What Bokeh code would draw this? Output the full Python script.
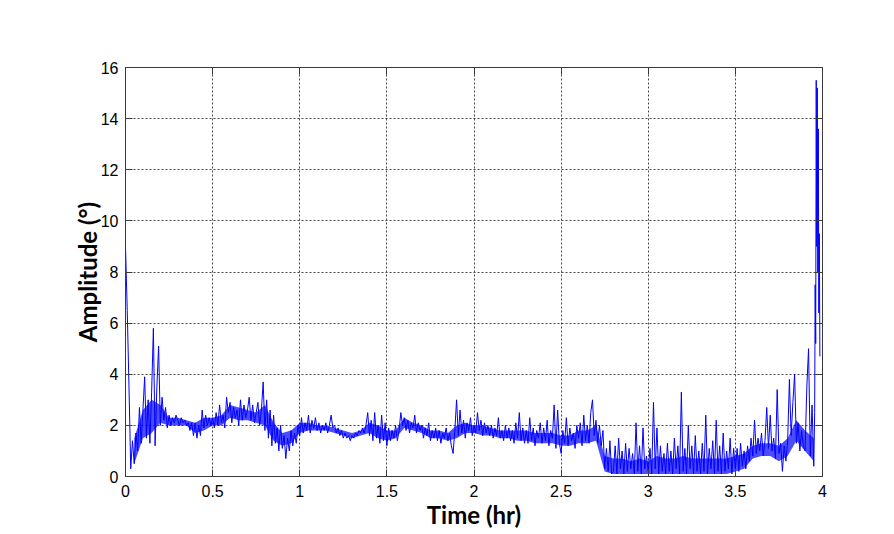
import numpy as np
from bokeh.plotting import figure
from bokeh.models import Range1d, LinearAxis, FixedTicker
from bokeh.embed import file_html
from bokeh.resources import INLINE

# ---------------- data ----------------
# amplitude samples every 0.01 hr
amp_0_1 = [9.0, 6.5, 3.5, 0.3, 1.4, 0.5, 1.7, 1.0, 2.7, 1.3,
           2.6, 3.9, 1.5, 3.0, 1.3, 3.3, 5.8, 1.2, 3.5, 5.1,
           2.0, 3.1, 2.2, 2.7, 1.9, 2.4, 2.0, 2.3, 2.1, 2.4,
           2.2, 2.0, 2.3, 2.1, 2.2, 2.0, 2.1, 1.8, 2.1, 1.6,
           2.1, 1.5, 2.0, 1.6, 2.6, 1.9, 2.4, 2.0, 2.3, 2.0,
           2.3, 1.9, 2.5, 2.0, 2.8, 2.1, 2.4, 1.9, 3.1, 2.5,
           2.9, 2.1, 2.7, 2.3, 2.6, 2.0, 3.0, 2.2, 2.8, 2.3,
           2.6, 3.1, 2.2, 2.8, 2.1, 2.5, 2.9, 2.0, 2.6, 3.7,
           1.8, 3.0, 1.5, 2.6, 1.2, 2.4, 1.3, 1.9, 1.0, 2.0,
           1.1, 1.6, 0.7, 1.5, 1.0, 1.8, 1.2, 1.7, 1.3, 2.0]
amp_1_2 = [1.6, 2.3, 1.7, 2.1, 1.8, 2.4, 1.7, 2.2, 1.9, 2.3,
           1.8, 2.1, 1.7, 2.0, 1.8, 2.1, 1.7, 2.0, 2.4, 1.9,
           2.0, 1.7, 1.9, 1.6, 1.8, 1.5, 1.7, 1.5, 1.6, 1.4,
           1.6, 1.5, 1.7, 1.6, 1.8, 1.7, 1.9, 1.7, 2.0, 2.5,
           1.6, 2.2, 1.4, 2.5, 1.5, 2.0, 1.3, 2.4, 1.4, 2.1,
           1.2, 1.9, 1.4, 1.8, 1.5, 2.0, 1.4, 1.8, 2.5, 2.0,
           2.3, 1.8, 2.2, 1.7, 2.1, 1.9, 2.4, 1.7, 2.1, 1.8,
           2.0, 1.5, 1.9, 1.6, 2.1, 1.4, 1.8, 1.5, 1.9, 1.4,
           1.8, 1.3, 1.7, 1.5, 1.9, 1.4, 1.7, 1.2, 0.9, 1.8,
           3.0, 1.6, 2.6, 1.7, 2.2, 1.5, 2.1, 1.8, 2.3, 1.6]
amp_2_3 = [2.0, 1.7, 2.5, 1.8, 2.2, 1.6, 2.1, 1.7, 2.0, 1.6,
           2.0, 1.5, 1.9, 1.6, 2.3, 1.5, 1.8, 1.4, 2.0, 1.5,
           1.9, 1.4, 1.8, 1.3, 2.1, 1.5, 2.5, 1.4, 1.9, 1.3,
           1.8, 1.3, 2.3, 1.4, 1.9, 1.2, 1.8, 1.5, 2.1, 1.3,
           1.9, 1.4, 2.2, 1.2, 1.8, 1.5, 2.8, 1.1, 2.6, 1.3,
           0.9, 1.8, 1.3, 2.3, 1.2, 1.9, 1.4, 1.7, 1.1, 2.0,
           1.5, 2.1, 1.2, 2.4, 1.4, 2.0, 1.3, 2.5, 3.0, 1.6,
           2.2, 1.3, 2.0, 1.2, 1.8, 0.3, 1.1, 0.2, 1.4, 0.1,
           0.2, 1.2, 0.1, 1.5, 0.3, 1.0, 0.1, 1.3, 0.2, 1.1,
           0.3, 0.9, 0.1, 2.1, 0.2, 1.2, 0.1, 1.9, 0.3, 0.8]
amp_3_4 = [0.2, 1.1, 0.1, 2.9, 0.3, 1.9, 0.1, 1.2, 0.2, 0.9,
           0.1, 1.3, 0.2, 1.0, 0.1, 1.5, 0.3, 1.2, 0.1, 3.3,
           0.2, 1.1, 0.1, 2.0, 0.3, 1.2, 0.1, 1.6, 0.2, 1.0,
           0.1, 1.3, 0.2, 2.4, 0.1, 1.1, 0.3, 1.4, 0.1, 2.2,
           0.2, 1.2, 0.1, 1.7, 0.2, 1.0, 0.3, 1.5, 0.1, 1.1,
           0.3, 1.1, 0.2, 1.3, 0.4, 1.0, 0.3, 1.2, 0.6, 1.5,
           0.8, 2.2, 0.9, 1.5, 1.0, 1.7, 0.8, 1.4, 2.7, 1.1,
           2.4, 1.0, 1.5, 0.7, 3.4, 0.9, 1.3, 0.2, 1.2, 0.6,
           1.4, 3.8, 1.6, 2.9, 4.0, 1.3, 2.1, 1.0, 1.8, 1.2,
           1.0, 3.5, 5.0, 0.8, 2.8, 0.4]
sample_step = 0.01
# final burst (hr, degrees)
tail_time = [3.955, 3.958, 3.961, 3.964, 3.967, 3.970, 3.973, 3.976, 3.979, 3.982, 3.985]
tail_amp = [2.5, 7.5, 5.2, 15.5, 9.0, 15.2, 8.0, 13.6, 6.4, 9.5, 4.7]

# dense core of the trace (low / high edge), every 0.05 hr from 0.05 hr
band_step = 0.05
band_low = [0.5, 1.5, 1.7, 2.1, 2.0, 2.0, 2.0, 1.7, 1.8, 2.0,
            2.0, 2.3, 2.2, 2.2, 2.1, 2.0, 1.4, 1.2, 1.3, 1.7,
            1.8, 1.8, 1.8, 1.7, 1.6, 1.5, 1.6, 1.7, 1.5, 1.4,
            1.5, 1.9, 1.8, 1.7, 1.5, 1.5, 1.4, 1.5, 1.7, 1.7,
            1.6, 1.6, 1.5, 1.5, 1.4, 1.4, 1.3, 1.3, 1.3, 1.2,
            1.2, 1.3, 1.3, 1.4, 0.2, 0.1, 0.1, 0.1, 0.1, 0.1,
            0.1, 0.1, 0.1, 0.1, 0.1, 0.1, 0.1, 0.1, 0.1, 0.2,
            0.3, 0.7, 0.8, 0.8, 0.6, 0.8, 1.4, 1.0, 0.6]
band_high = [1.5, 2.6, 3.0, 2.8, 2.3, 2.3, 2.2, 2.1, 2.3, 2.3,
             2.4, 2.8, 2.7, 2.6, 2.5, 2.8, 2.1, 1.7, 1.8, 2.1,
             2.1, 2.0, 2.0, 1.9, 1.8, 1.7, 1.8, 2.1, 2.0, 1.8,
             1.8, 2.3, 2.1, 2.0, 1.8, 1.8, 1.7, 2.0, 2.1, 2.0,
             2.0, 1.9, 1.8, 1.8, 1.8, 1.8, 1.7, 1.7, 1.7, 1.6,
             1.6, 1.8, 1.8, 2.0, 0.8, 0.7, 0.7, 0.6, 0.7, 0.6,
             0.8, 0.7, 0.7, 0.8, 0.7, 0.7, 0.7, 0.7, 0.7, 0.8,
             0.9, 1.2, 1.3, 1.3, 1.2, 1.5, 2.2, 1.8, 1.5]

x_ticks = [0, 0.5, 1, 1.5, 2, 2.5, 3, 3.5, 4]
x_tick_labels = ["0", "0.5", "1", "1.5", "2", "2.5", "3", "3.5", "4"]
y_ticks = [0, 2, 4, 6, 8, 10, 12, 14, 16]
y_tick_labels = ["0", "2", "4", "6", "8", "10", "12", "14", "16"]

# ---------------- build ----------------
amp_main = amp_0_1 + amp_1_2 + amp_2_3 + amp_3_4
t_main = [round(i * sample_step, 3) for i in range(len(amp_main))]
time = t_main + tail_time
amp = amp_main + tail_amp
band_t = [round((i + 1) * band_step, 3) for i in range(len(band_low))]

AX = "#3a3a3a"
p = figure(frame_width=697, frame_height=409,
           x_range=Range1d(0, 4), y_range=Range1d(0, 16),
           output_backend="svg", toolbar_location=None,
           min_border_left=125, min_border_right=62,
           min_border_top=67, min_border_bottom=52,
           background_fill_color="white", border_fill_color="white")
p.outline_line_color = AX

bottom = p.below[0]
left = p.left[0]
top = LinearAxis()
right = LinearAxis()
p.add_layout(top, "above")
p.add_layout(right, "right")


def style(ax, ticks, labels, show):
    ax.ticker = FixedTicker(ticks=ticks)
    ax.major_label_overrides = {k: v for k, v in zip(ticks, labels)}
    ax.major_tick_in = 7
    ax.major_tick_out = 0
    ax.minor_tick_line_color = None
    ax.axis_line_color = AX
    ax.major_tick_line_color = AX
    ax.major_label_text_font = "Liberation Sans"
    ax.major_label_text_color = "black"
    ax.major_label_text_font_size = "16px" if show else "0px"
    if not show:
        ax.major_label_text_color = None
        ax.major_label_standoff = 0


style(bottom, x_ticks, x_tick_labels, True)
style(left, y_ticks, y_tick_labels, True)
style(top, x_ticks, x_tick_labels, False)
style(right, y_ticks, y_tick_labels, False)

bottom.major_label_standoff = 8
left.major_label_standoff = 7

for ax, lab in ((bottom, "Time (hr)"), (left, "Amplitude (°)")):
    ax.axis_label = lab
    ax.axis_label_text_font = "Lato"
    ax.axis_label_text_font_style = "bold"
    ax.axis_label_text_font_size = "24px"
    ax.axis_label_text_color = "black"
bottom.axis_label_standoff = 0
left.axis_label_standoff = -4

p.xgrid.ticker = FixedTicker(ticks=x_ticks)
p.ygrid.ticker = FixedTicker(ticks=y_ticks)
for g in (p.xgrid, p.ygrid):
    g.grid_line_color = "#333333"
    g.grid_line_dash = "2 2"
    g.grid_line_width = 1
    g.grid_line_alpha = 0.9

p.varea(x=band_t, y1=band_low, y2=band_high, fill_color="#0000FF", fill_alpha=0.7)
p.line(time, amp, line_color="#0000FF", line_width=1)

open("out.html", "w").write(file_html(p, INLINE))
